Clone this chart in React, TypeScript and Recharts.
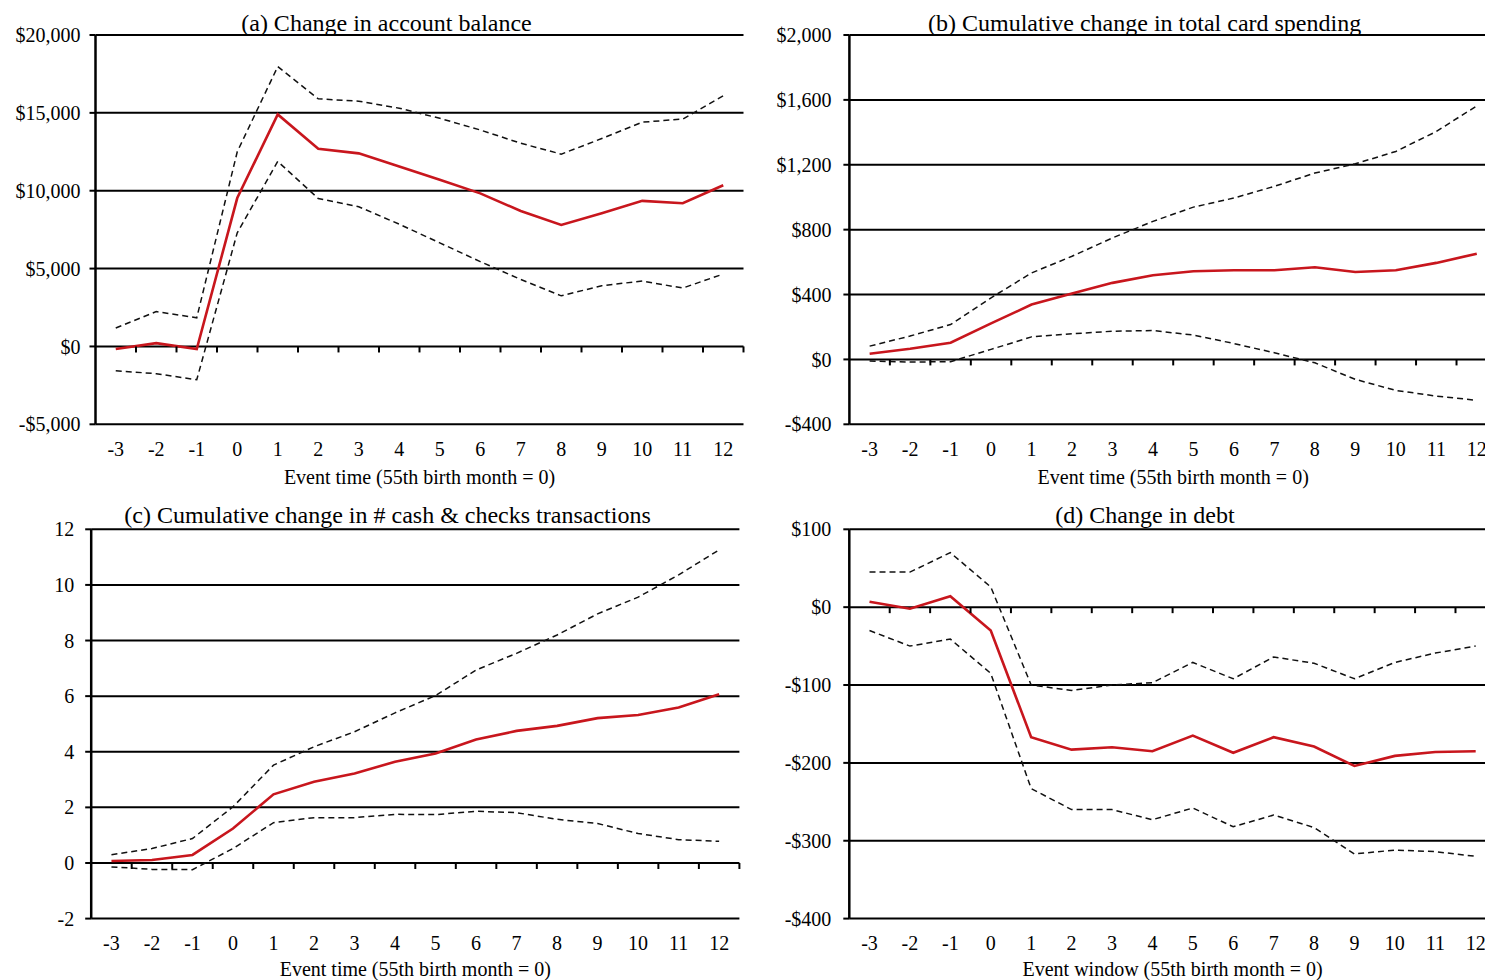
import { LineChart, Line, XAxis, YAxis, CartesianGrid, ReferenceDot } from 'recharts';

const FONT = '"Liberation Serif", "Times New Roman", serif';
const RED = '#c8161d';

// event time in months around the 55th birthday
const months = [-3, -2, -1, 0, 1, 2, 3, 4, 5, 6, 7, 8, 9, 10, 11, 12];

// (a) account balance
const balanceEst = [-170, 210, -170, 9530, 14900, 12700, 12400, 11550, 10700, 9830, 8700, 7800, 8550, 9350, 9200, 10350];
const balanceHi = [1180, 2240, 1840, 12500, 17970, 15900, 15750, 15300, 14650, 13900, 13050, 12350, 13350, 14400, 14600, 16100];
const balanceLo = [-1560, -1750, -2140, 7300, 11880, 9500, 8970, 7850, 6650, 5450, 4300, 3250, 3900, 4200, 3750, 4650];
const balanceTicks = [-5000, 0, 5000, 10000, 15000, 20000];

// (b) cumulative card spending
const spendEst = [35, 66, 103, 222, 338, 406, 472, 519, 544, 550, 550, 568, 539, 550, 595, 652];
const spendHi = [82, 144, 215, 380, 533, 636, 749, 851, 939, 995, 1067, 1149, 1206, 1282, 1405, 1563];
const spendLo = [-10, -16, -14, 62, 139, 158, 174, 178, 150, 98, 41, -21, -123, -191, -226, -252];
const spendTicks = [-400, 0, 400, 800, 1200, 1600, 2000];

// (c) cumulative cash & checks transactions
const cashEst = [0.07, 0.11, 0.29, 1.24, 2.47, 2.92, 3.22, 3.64, 3.94, 4.44, 4.75, 4.93, 5.21, 5.32, 5.59, 6.07];
const cashHi = [0.3, 0.52, 0.88, 2.02, 3.52, 4.18, 4.72, 5.4, 6.02, 6.94, 7.54, 8.2, 8.96, 9.56, 10.36, 11.26];
const cashLo = [-0.14, -0.23, -0.24, 0.52, 1.45, 1.63, 1.63, 1.75, 1.74, 1.86, 1.81, 1.57, 1.42, 1.06, 0.84, 0.78];
const cashTicks = [-2, 0, 2, 4, 6, 8, 10, 12];

// (d) debt
const debtEst = [7, -2, 14, -30, -167, -183, -180, -185, -165, -187, -167, -179, -204, -191, -186, -185];
const debtHi = [45, 45, 70, 26, -100, -107, -100, -97, -71, -92, -64, -72, -92, -71, -59, -50];
const debtLo = [-30, -50, -41, -85, -233, -260, -260, -273, -258, -282, -267, -283, -317, -312, -314, -320];
const debtTicks = [-400, -300, -200, -100, 0, 100];

// category boundaries, marked on the zero line
const monthEdges = months.map((m) => m + 0.5);

const dollars = (v: number) => (v < 0 ? '-$' : '$') + Math.abs(v).toLocaleString('en-US');
const plain = (v: number) => String(v);

const ZeroTick = (p: any) => (
  <line x1={p.cx} y1={p.cy} x2={p.cx} y2={p.cy + 6} stroke="#000" strokeWidth={2} />
);

interface PanelProps {
  title: string;
  xTitle: string;
  est: number[];
  hi: number[];
  lo: number[];
  ticks: number[];
  fmt: (v: number) => string;
  left: number;
  top: number;
  yAxisWidth: number;
  marginTop: number;
  marginRight: number;
  tickGap: number;
  labelOffset: number;
  titleX: number;
  titleY: number;
}

function Panel(props: PanelProps) {
  const { title, xTitle, est, hi, lo, ticks, fmt, left, top, yAxisWidth, marginTop, marginRight, tickGap, labelOffset, titleX, titleY } = props;
  const rows = months.map((month, i) => ({ month, est: est[i], hi: hi[i], lo: lo[i] }));
  const W = 750;
  const H = 490;
  const plotH = 389.3;

  return (
    <div style={{ position: 'absolute', left, top, width: W, height: H }}>
      <LineChart width={W} height={H} data={rows} margin={{ top: marginTop, right: marginRight, left: 0, bottom: 0 }}>
        <CartesianGrid vertical={false} stroke="#000" strokeWidth={2} />
        <XAxis
          dataKey="month"
          type="number"
          domain={[-3.5, 12.5]}
          ticks={months}
          interval={0}
          axisLine={false}
          tickLine={false}
          tickSize={6}
          tickMargin={11}
          height={H - marginTop - plotH}
          tick={{ fill: '#000', fontSize: 20, fontFamily: FONT }}
          label={{ value: xTitle, position: 'insideBottom', offset: labelOffset, fill: '#000', fontSize: 20, fontFamily: FONT }}
        />
        <YAxis
          type="number"
          domain={[ticks[0], ticks[ticks.length - 1]]}
          ticks={ticks}
          interval={0}
          width={yAxisWidth}
          axisLine={{ stroke: '#000', strokeWidth: 2.5 }}
          tickLine={{ stroke: '#000', strokeWidth: 2 }}
          tickSize={6}
          tickMargin={tickGap}
          tickFormatter={fmt}
          tick={{ fill: '#000', fontSize: 20, fontFamily: FONT }}
        />
        {monthEdges.map((e) => (
          <ReferenceDot key={e} x={e} y={0} shape={ZeroTick} />
        ))}
        <Line dataKey="hi" type="linear" stroke="#111" strokeWidth={1.5} strokeDasharray="6 4" dot={false} activeDot={false} isAnimationActive={false} />
        <Line dataKey="lo" type="linear" stroke="#111" strokeWidth={1.5} strokeDasharray="6 4" dot={false} activeDot={false} isAnimationActive={false} />
        <Line dataKey="est" type="linear" stroke={RED} strokeWidth={2.6} dot={false} activeDot={false} isAnimationActive={false} />
      </LineChart>
      <svg width={W} height={H} style={{ position: 'absolute', left: 0, top: 0, pointerEvents: 'none' }}>
        <text x={titleX} y={titleY} textAnchor="middle" fontSize={24} fontFamily={FONT} fill="#000">
          {title}
        </text>
      </svg>
    </div>
  );
}

export default function App() {
  return (
    <div style={{ position: 'absolute', left: 0, top: 0, width: 1485, height: 980, overflow: 'hidden', background: '#fff' }}>
      <Panel
        title="(a) Change in account balance"
        xTitle="Event time (55th birth month = 0)"
        est={balanceEst}
        hi={balanceHi}
        lo={balanceLo}
        ticks={balanceTicks}
        fmt={dollars}
        left={0}
        top={0}
        yAxisWidth={95.5}
        marginTop={35}
        marginRight={6.5}
        tickGap={9}
        labelOffset={6}
        titleX={386.5}
        titleY={31}
      />
      <Panel
        title="(b) Cumulative change in total card spending"
        xTitle="Event time (55th birth month = 0)"
        est={spendEst}
        hi={spendHi}
        lo={spendLo}
        ticks={spendTicks}
        fmt={dollars}
        left={750}
        top={0}
        yAxisWidth={99.4}
        marginTop={35}
        marginRight={3}
        tickGap={12}
        labelOffset={6}
        titleX={394.6}
        titleY={31}
      />
      <Panel
        title="(c) Cumulative change in # cash & checks transactions"
        xTitle="Event time (55th birth month = 0)"
        est={cashEst}
        hi={cashHi}
        lo={cashLo}
        ticks={cashTicks}
        fmt={plain}
        left={0}
        top={490}
        yAxisWidth={91.2}
        marginTop={39.3}
        marginRight={10.6}
        tickGap={11}
        labelOffset={4}
        titleX={387.5}
        titleY={33}
      />
      <Panel
        title="(d) Change in debt"
        xTitle="Event window (55th birth month = 0)"
        est={debtEst}
        hi={debtHi}
        lo={debtLo}
        ticks={debtTicks}
        fmt={dollars}
        left={750}
        top={490}
        yAxisWidth={99.3}
        marginTop={39.3}
        marginRight={4.1}
        tickGap={12}
        labelOffset={4}
        titleX={395}
        titleY={33}
      />
    </div>
  );
}
